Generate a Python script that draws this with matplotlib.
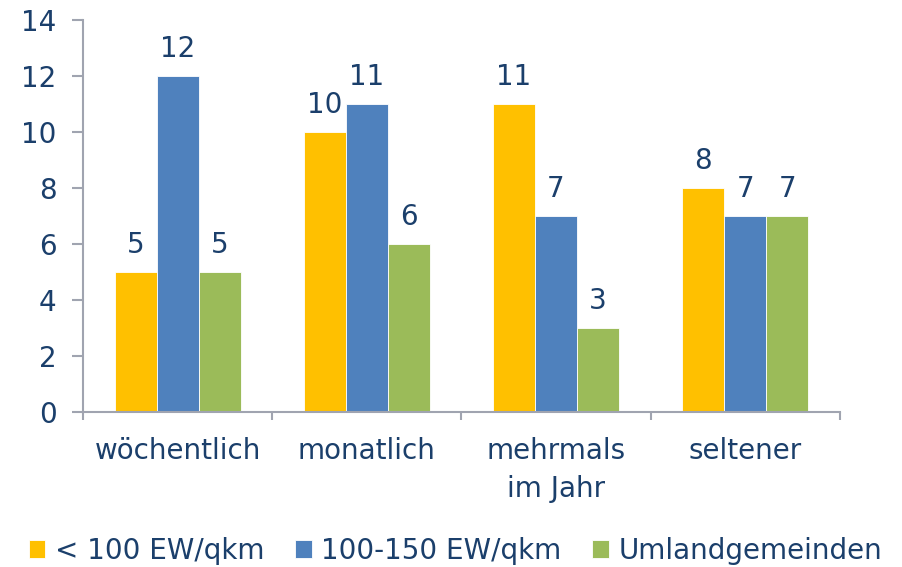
import numpy as np
import matplotlib.pyplot as plt

categories = ["wöchentlich", "monatlich", "mehrmals\nim Jahr", "seltener"]
series_names = ["< 100 EW/qkm", "100-150 EW/qkm", "Umlandgemeinden"]
under_100 = [5, 10, 11, 8]
from_100_150 = [12, 11, 7, 7]
umland = [5, 6, 3, 7]

colors = ["#FFC000", "#4F81BD", "#9BBB59"]
text_color = "#1B3F6B"
axis_color = "#A0A4B0"
fs = 20

fig = plt.figure(figsize=(9.02, 5.67), dpi=100)
ax = fig.add_axes([0.092, 0.2734, 0.839, 0.6913])

x = np.arange(len(categories))
width = 0.222
for i, (vals, name, col) in enumerate(zip([under_100, from_100_150, umland], series_names, colors)):
    bars = ax.bar(x + (i - 1) * width, vals, width, color=col, label=name,
                  edgecolor="white", linewidth=0.6)
    for b, v in zip(bars, vals):
        ax.text(b.get_x() + b.get_width() / 2, v + 0.45, str(v), ha="center", va="bottom",
                fontsize=fs, color=text_color)

ax.set_xlim(-0.5, 3.5)
ax.set_ylim(0, 14)
ax.set_yticks(range(0, 15, 2))
ax.set_xticks(x)
ax.set_xticklabels(categories, fontsize=fs, color=text_color, linespacing=1.45)
ax.set_xticks(np.arange(-0.5, 4, 1), minor=True)
ax.tick_params(axis="x", which="major", length=0, pad=18)
ax.tick_params(axis="x", which="minor", length=6, color=axis_color, width=1.5)
ax.tick_params(axis="y", length=8, color=axis_color, width=1.5, labelsize=fs,
               labelcolor=text_color, pad=11)
for s in ["top", "right"]:
    ax.spines[s].set_visible(False)
for s in ["left", "bottom"]:
    ax.spines[s].set_color(axis_color)
    ax.spines[s].set_linewidth(1.5)

fig.legend(loc="lower center", bbox_to_anchor=(0.505, -0.04), ncol=3, frameon=False,
           fontsize=fs, labelcolor=text_color, handlelength=0.6, handleheight=0.6,
           handletextpad=0.35, columnspacing=1.1)

fig.savefig("out.png", dpi=100)
